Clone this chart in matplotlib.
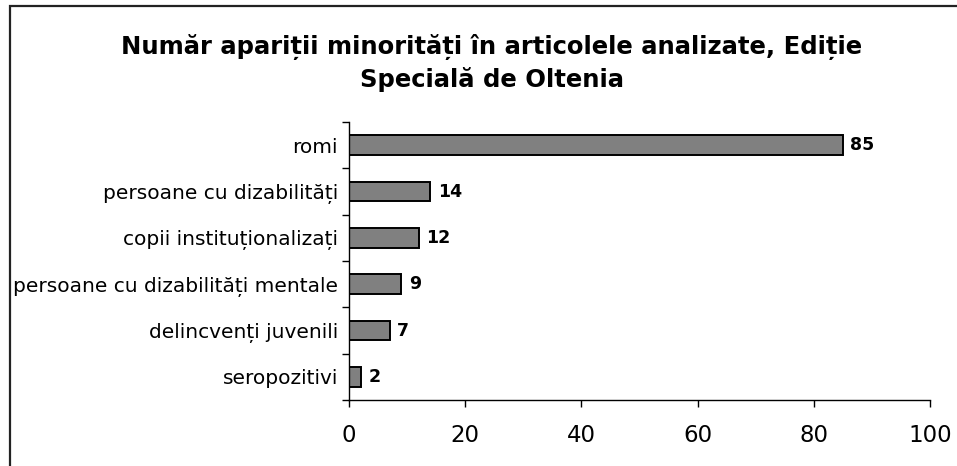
import matplotlib
matplotlib.use("Agg")
import matplotlib.pyplot as plt
from matplotlib.patches import Rectangle
from matplotlib.ticker import FixedLocator
import numpy as np

plt.rcParams['font.family'] = ['DejaVu Sans']

# categories, bottom to top
categories = ['seropozitivi', 'delincvenți juvenili', 'persoane cu dizabilități mentale',
              'copii instituționalizați', 'persoane cu dizabilități', 'romi']
counts = [2, 7, 9, 12, 14, 85]
x_ticks = [0, 20, 40, 60, 80, 100]

fig = plt.figure(figsize=(9.57, 4.66), dpi=100)
fig.patches.append(Rectangle((9.5 / 957, -0.1), 1.2, 1.1 - 6 / 466,
                             transform=fig.transFigure, fill=False,
                             edgecolor='#222222', linewidth=1.6))

ax = fig.add_axes([349 / 957, 1 - 400 / 466, 581 / 957, 278 / 466])
y = np.arange(len(categories))
ax.barh(y, counts, height=0.43, color='#808080', edgecolor='black', linewidth=1.4)

for yi, v in zip(y, counts):
    ax.annotate(str(v), (v, yi), xytext=(5.5, 0), textcoords='offset points',
                va='center', ha='left', fontsize=12.5, fontweight='bold')

ax.set_xlim(0, 100)
ax.set_ylim(-0.5, len(categories) - 0.5)
ax.set_xticks(x_ticks)
ax.tick_params(axis='x', labelsize=16.5, length=5, width=1, pad=12)
ax.set_yticks(y)
ax.set_yticklabels(categories)
ax.tick_params(axis='y', which='major', length=0, labelsize=14.5, pad=8)
ax.yaxis.set_minor_locator(FixedLocator(np.arange(-0.5, len(categories), 1)))
ax.tick_params(axis='y', which='minor', length=5, width=1)

for s in ('top', 'right'):
    ax.spines[s].set_visible(False)
for s in ('left', 'bottom'):
    ax.spines[s].set_linewidth(1)

fig.text(492 / 957, 1 - 47 / 466, 'Număr apariții minorități în articolele analizate, Ediție',
         ha='center', va='center', fontsize=17.5, fontweight='bold')
fig.text(492 / 957, 1 - 79 / 466, 'Specială de Oltenia',
         ha='center', va='center', fontsize=17.5, fontweight='bold')

fig.savefig('out.png', dpi=100)
